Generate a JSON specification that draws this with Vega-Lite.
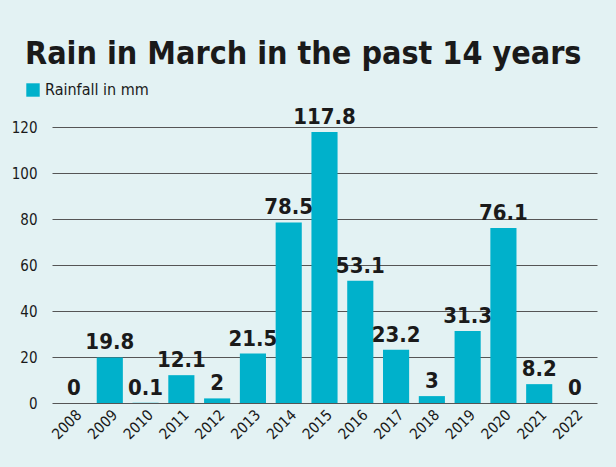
{
  "$schema": "https://vega.github.io/schema/vega-lite/v6.json",
  "width": 545,
  "height": 276,
  "autosize": "none",
  "padding": {"left": 52, "top": 127, "right": 19, "bottom": 64},
  "background": "#e3f2f3",
  "title": {
    "text": "Rain in March in the past 14 years",
    "anchor": "start",
    "frame": "group",
    "dx": -27,
    "offset": 11,
    "font": "DejaVu Sans Condensed, sans-serif",
    "fontSize": 32,
    "fontWeight": "bold",
    "color": "#1a1a1a"
  },
  "data": {
    "values": [
      {"year": "2008", "rain": 0, "series": "Rainfall in mm"},
      {"year": "2009", "rain": 19.8, "series": "Rainfall in mm"},
      {"year": "2010", "rain": 0.1, "series": "Rainfall in mm"},
      {"year": "2011", "rain": 12.1, "series": "Rainfall in mm"},
      {"year": "2012", "rain": 2, "series": "Rainfall in mm"},
      {"year": "2013", "rain": 21.5, "series": "Rainfall in mm"},
      {"year": "2014", "rain": 78.5, "series": "Rainfall in mm"},
      {"year": "2015", "rain": 117.8, "series": "Rainfall in mm"},
      {"year": "2016", "rain": 53.1, "series": "Rainfall in mm"},
      {"year": "2017", "rain": 23.2, "series": "Rainfall in mm"},
      {"year": "2018", "rain": 3, "series": "Rainfall in mm"},
      {"year": "2019", "rain": 31.3, "series": "Rainfall in mm"},
      {"year": "2020", "rain": 76.1, "series": "Rainfall in mm"},
      {"year": "2021", "rain": 8.2, "series": "Rainfall in mm"},
      {"year": "2022", "rain": 0, "series": "Rainfall in mm"}
    ]
  },
  "encoding": {
    "x": {
      "field": "year",
      "type": "nominal",
      "scale": {"paddingInner": 0.27, "paddingOuter": 0.25},
      "axis": {
        "title": null,
        "labelAngle": -45,
        "labelFontSize": 15,
        "labelFont": "DejaVu Sans Condensed, sans-serif",
        "labelColor": "#1a1a1a",
        "ticks": false,
        "domain": false,
        "labelPadding": 4
      }
    },
    "y": {
      "field": "rain",
      "type": "quantitative",
      "scale": {"domain": [0, 120], "nice": false},
      "axis": {
        "title": null,
        "values": [0, 20, 40, 60, 80, 100, 120],
        "labelFontSize": 15,
        "labelFont": "DejaVu Sans Condensed, sans-serif",
        "labelColor": "#1a1a1a",
        "labelPadding": 15,
        "ticks": false,
        "domain": false,
        "gridColor": "#555555",
        "gridWidth": 1,
        "gridOpacity": 1
      }
    }
  },
  "layer": [
    {
      "mark": {"type": "bar"},
      "encoding": {
        "color": {
          "field": "series",
          "type": "nominal",
          "scale": {"range": ["#00b1cb"]},
          "legend": {
            "title": null,
            "orient": "none",
            "legendX": -27,
            "legendY": -45,
            "symbolType": "square",
            "symbolSize": 180,
            "symbolStrokeWidth": 0,
            "labelFontSize": 16,
            "labelFont": "DejaVu Sans Condensed, sans-serif",
            "labelColor": "#1a1a1a"
          }
        }
      }
    },
    {
      "mark": {
        "type": "text",
        "baseline": "bottom",
        "dy": -3,
        "fontSize": 22,
        "fontWeight": "bold",
        "font": "DejaVu Sans Condensed, sans-serif",
        "color": "#1a1a1a"
      },
      "encoding": {
        "text": {"field": "rain", "type": "quantitative"}
      }
    }
  ],
  "config": {
    "view": {"stroke": null}
  }
}
